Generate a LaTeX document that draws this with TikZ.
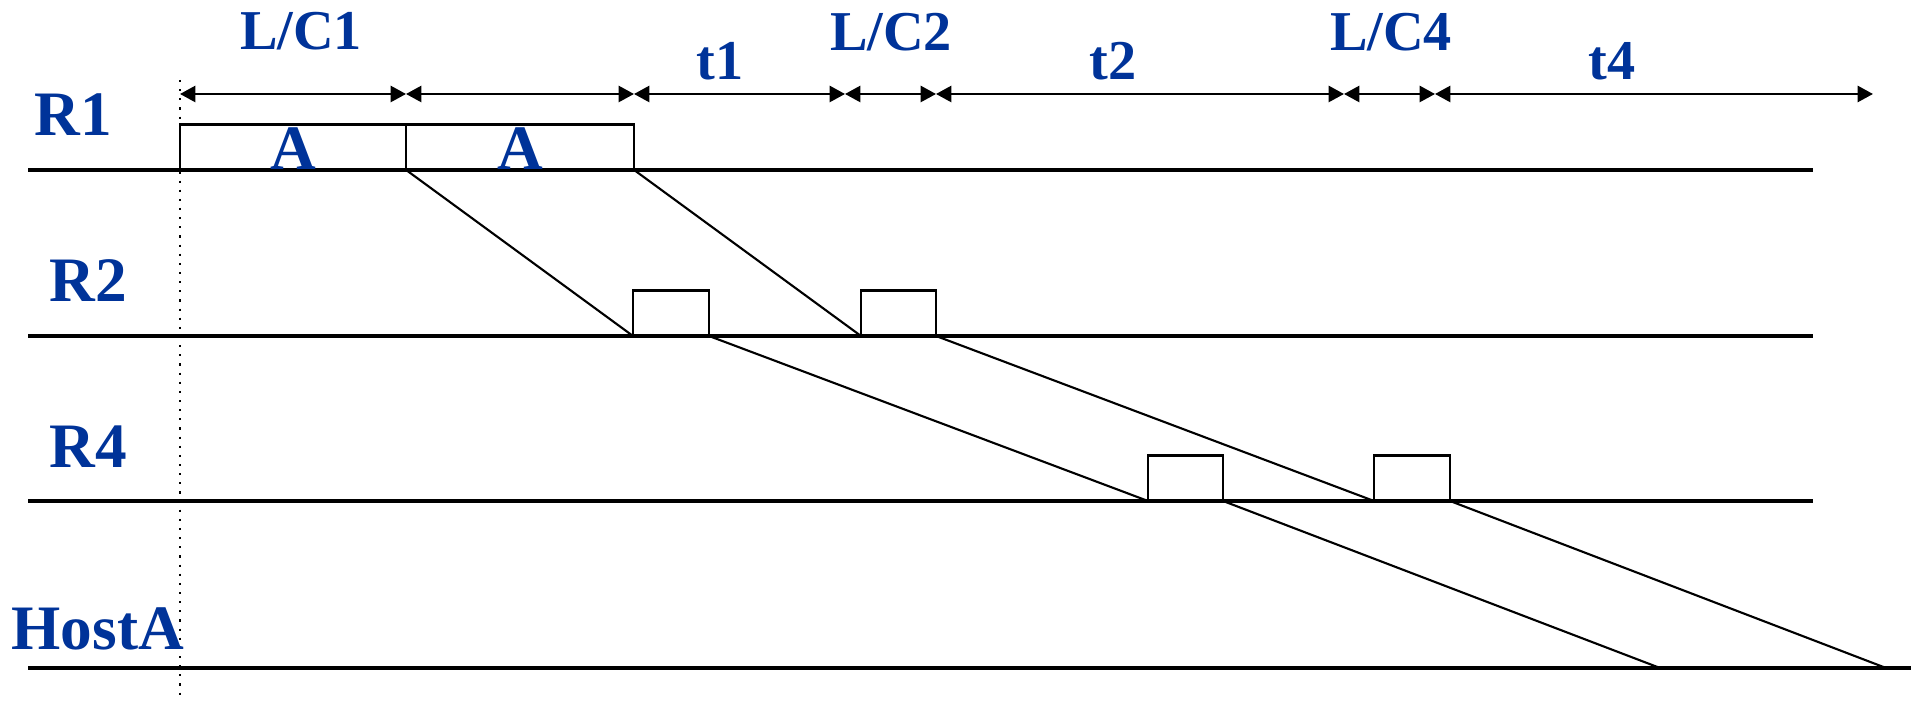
\documentclass[tikz,border=0pt]{standalone}
\usepackage{fontspec}
\setmainfont{Liberation Serif}
\usetikzlibrary{arrows.meta}
\definecolor{lblue}{RGB}{0,51,153}
\begin{document}
\begin{tikzpicture}[x=0.01cm,y=-0.01cm,
  lbl/.style={text=lblue,font=\fontsize{18}{20}\selectfont\bfseries,inner sep=0pt},
  toplbl/.style={text=lblue,font=\fontsize{16}{18}\selectfont\bfseries,inner sep=0pt,anchor=base},
  tline/.style={line width=0.9pt},
  pkt/.style={draw,line width=0.7pt,inner sep=0pt,outer sep=0pt,anchor=south west,minimum height=0.455cm},
  prop/.style={line width=0.6pt},
  dim/.style={line width=0.7pt,{Triangle[length=4.4pt,width=4.6pt]}-{Triangle[length=4.4pt,width=4.6pt]}},
]
\useasboundingbox (0,0) rectangle (1920,701);

% time lines
\coordinate (r1s) at (28,170); \coordinate (r1e) at (1813,170);
\coordinate (r2s) at (28,336); \coordinate (r2e) at (1813,336);
\coordinate (r4s) at (28,501); \coordinate (r4e) at (1813,501);
\coordinate (hs) at (28,668);  \coordinate (he) at (1911,668);
\draw[tline] (r1s) -- (r1e);
\draw[tline] (r2s) -- (r2e);
\draw[tline] (r4s) -- (r4e);
\draw[tline] (hs) -- (he);

% dotted reference line
\coordinate (dtop) at (180,80); \coordinate (dbot) at (180,701);
\draw[dotted,line width=0.6pt] (dtop) -- (dbot);

% packets
\node[pkt,minimum width=2.26cm] (a1) at (180,170) {};
\node[pkt,minimum width=2.28cm] (a2) at (406,170) {};
\node[pkt,minimum width=0.76cm] (b1) at (633,336) {};
\node[pkt,minimum width=0.75cm] (b2) at (861,336) {};
\node[pkt,minimum width=0.75cm] (c1) at (1148,501) {};
\node[pkt,minimum width=0.76cm] (c2) at (1374,501) {};
\node[lbl,anchor=base] (ta1) at (a1.south) {A};
\node[lbl,anchor=base] (ta2) at (a2.south) {A};

% propagation lines
\coordinate (h1) at (1660,668); \coordinate (h2) at (1886,668);
\draw[prop] (a1.south east) -- (b1.south west);
\draw[prop] (a2.south east) -- (b2.south west);
\draw[prop] (b1.south east) -- (c1.south west);
\draw[prop] (b2.south east) -- (c2.south west);
\draw[prop] (c1.south east) -- (h1);
\draw[prop] (c2.south east) -- (h2);

% dimension arrows
\coordinate (m0) at (180,94);
\coordinate (m1) at (406,94);
\coordinate (m2) at (634,94);
\coordinate (m3) at (845,94);
\coordinate (m4) at (936,94);
\coordinate (m5) at (1344,94);
\coordinate (m6) at (1435,94);
\coordinate (m7) at (1873,94);
\draw[dim] (m0) -- (m1);
\draw[dim] (m1) -- (m2);
\draw[dim] (m2) -- (m3);
\draw[dim] (m3) -- (m4);
\draw[dim] (m4) -- (m5);
\draw[dim] (m5) -- (m6);
\draw[dim] (m6) -- (m7);

% top labels
\node[toplbl] (lc1) at (301,50) {L/C1};
\node[toplbl] (lt1) at (720,80) {t1};
\node[toplbl] (lc2) at (891,51) {L/C2};
\node[toplbl] (lt2) at (1113,80) {t2};
\node[toplbl] (lc4) at (1391,51) {L/C4};
\node[toplbl] (lt4) at (1612,80) {t4};

% row labels
\node[lbl,anchor=base west] (nr1) at (34,136) {R1};
\node[lbl,anchor=base west] (nr2) at (49,302) {R2};
\node[lbl,anchor=base west] (nr4) at (49,468) {R4};
\node[lbl,anchor=base west] (nh) at (11,650) {HostA};
\end{tikzpicture}
\end{document}
